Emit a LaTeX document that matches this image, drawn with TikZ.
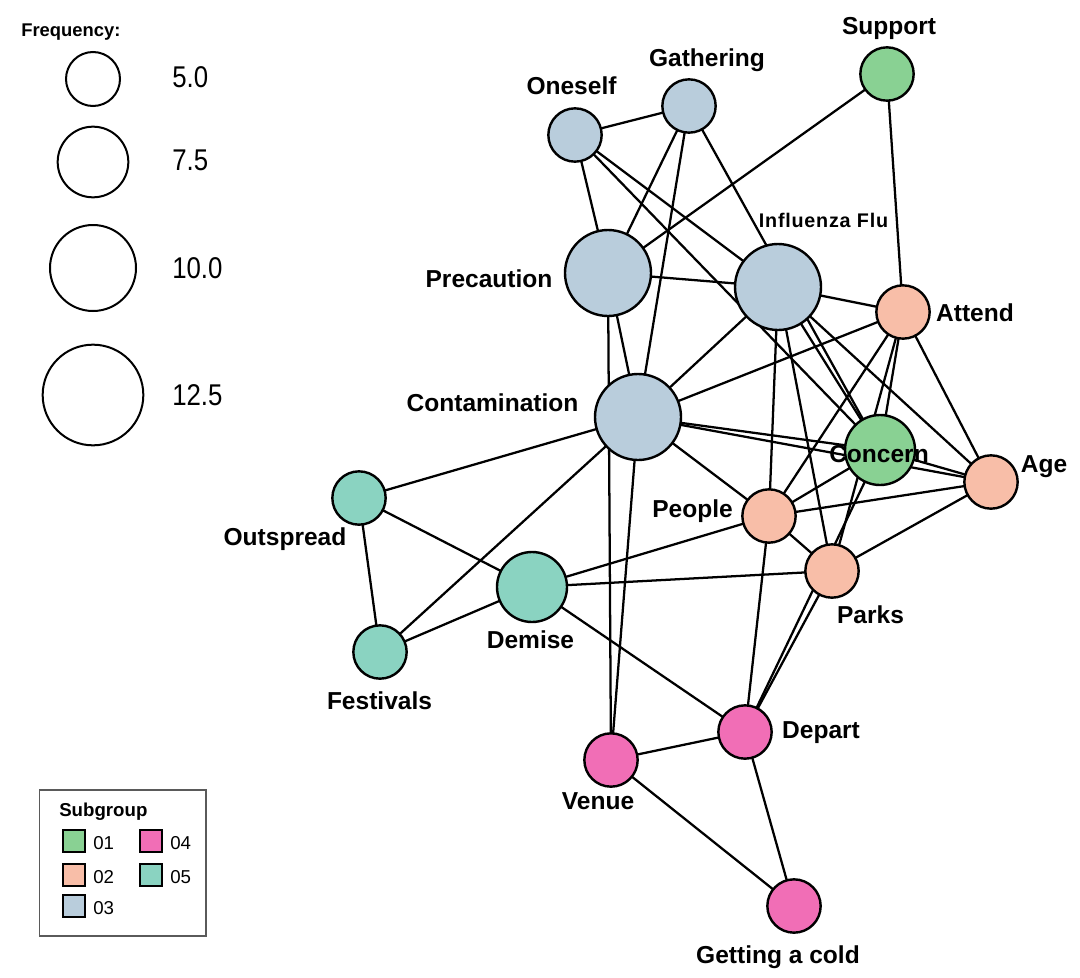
\documentclass[tikz,border=0pt]{standalone}
\usepackage{fontspec}
\setmainfont{Liberation Sans}
\newfontfamily\narrowfont[FakeStretch=0.86]{Liberation Sans}
\usetikzlibrary{backgrounds}
\definecolor{gA}{RGB}{137,209,147}
\definecolor{gB}{RGB}{248,190,168}
\definecolor{gC}{RGB}{185,205,220}
\definecolor{gD}{RGB}{241,110,182}
\definecolor{gE}{RGB}{138,211,193}
\definecolor{boxgray}{RGB}{90,90,90}
\begin{document}
\begin{tikzpicture}[x=0.75pt,y=-0.75pt,
  nd/.style={circle,draw=black,line width=1.8pt,inner sep=0pt,outer sep=0pt},
  sA/.style={minimum size=40pt},
  sB/.style={minimum size=52.5pt},
  sC/.style={minimum size=64.5pt},
  lbl/.style={font=\fontsize{18.4pt}{20pt}\selectfont\bfseries,inner sep=0pt,anchor=base},
  flbl/.style={font=\fontsize{14.8pt}{16pt}\selectfont\bfseries\addfontfeature{LetterSpace=4},inner sep=0pt,anchor=base},
  edge/.style={line width=1.7pt,black},
  legc/.style={circle,draw=black,line width=1.5pt,inner sep=0pt,outer sep=0pt},
  legn/.style={font=\narrowfont\fontsize{22.5pt}{24pt}\selectfont,inner sep=0pt,anchor=base west},
  swatch/.style={draw=black,line width=1.6pt,minimum size=16pt,inner sep=0pt},
  swl/.style={font=\fontsize{14pt}{15pt}\selectfont,inner sep=0pt,anchor=base west},
]
\useasboundingbox (0,0) rectangle (1080,977);

% nodes
\node[nd,sA,fill=gA] (support) at (887,74) {};
\node[nd,sA,fill=gC] (gathering) at (689,106) {};
\node[nd,sA,fill=gC] (oneself) at (575,135) {};
\node[nd,sC,fill=gC] (precaution) at (608,273) {};
\node[nd,sC,fill=gC] (influenza) at (778,287) {};
\node[nd,sA,fill=gB] (attend) at (903,312) {};
\node[nd,sC,fill=gC] (contamination) at (638,417) {};
\node[nd,sB,fill=gA] (concern) at (880,450) {};
\node[nd,sA,fill=gB] (age) at (991,482) {};
\node[nd,sA,fill=gB] (people) at (769,516) {};
\node[nd,sA,fill=gB] (parks) at (832,571) {};
\node[nd,sA,fill=gE] (outspread) at (359,498) {};
\node[nd,sB,fill=gE] (demise) at (532,587) {};
\node[nd,sA,fill=gE] (festivals) at (380,652) {};
\node[nd,sA,fill=gD] (depart) at (745,732) {};
\node[nd,sA,fill=gD] (venue) at (611,760) {};
\node[nd,sA,fill=gD] (cold) at (794,906) {};

% edges
\begin{pgfonlayer}{background}
\draw[edge] (oneself) -- (gathering);
\draw[edge] (oneself) -- (precaution);
\draw[edge] (oneself) -- (influenza);
\draw[edge] (oneself) -- (concern);
\draw[edge] (gathering) -- (precaution);
\draw[edge] (gathering) -- (contamination);
\draw[edge] (gathering) -- (concern);
\draw[edge] (support) -- (precaution);
\draw[edge] (support) -- (attend);
\draw[edge] (precaution) -- (influenza);
\draw[edge] (precaution) -- (contamination);
\draw[edge] (precaution) -- (venue);
\draw[edge] (influenza) -- (contamination);
\draw[edge] (influenza) -- (attend);
\draw[edge] (influenza) -- (people);
\draw[edge] (influenza) -- (parks);
\draw[edge] (influenza) -- (concern);
\draw[edge] (influenza) -- (age);
\draw[edge] (attend) -- (contamination);
\draw[edge] (attend) -- (people);
\draw[edge] (attend) -- (concern);
\draw[edge] (attend) -- (parks);
\draw[edge] (attend) -- (age);
\draw[edge] (contamination) -- (concern);
\draw[edge] (contamination) -- (age);
\draw[edge] (contamination) -- (people);
\draw[edge] (contamination) -- (outspread);
\draw[edge] (contamination) -- (festivals);
\draw[edge] (contamination) -- (venue);
\draw[edge] (concern) -- (age);
\draw[edge] (concern) -- (people);
\draw[edge] (people) -- (age);
\draw[edge] (people) -- (parks);
\draw[edge] (people) -- (demise);
\draw[edge] (people) -- (depart);
\draw[edge] (parks) -- (age);
\draw[edge] (parks) -- (demise);
\draw[edge] (parks) -- (depart);
\draw[edge] (depart) -- (concern);
\draw[edge] (outspread) -- (demise);
\draw[edge] (outspread) -- (festivals);
\draw[edge] (festivals) -- (demise);
\draw[edge] (demise) -- (depart);
\draw[edge] (venue) -- (depart);
\draw[edge] (venue) -- (cold);
\draw[edge] (depart) -- (cold);
\end{pgfonlayer}

% labels
\node[lbl] (l-support) at (889,35) {Support};
\node[lbl] (l-gathering) at (707,67) {Gathering};
\node[lbl] (l-oneself) at (571.5,95) {Oneself};
\node[flbl] (l-influenza) at (823.5,227) {Influenza Flu};
\node[lbl] (l-precaution) at (489,287) {Precaution};
\node[lbl] (l-attend) at (975,321) {Attend};
\node[lbl] (l-contamination) at (492.5,411) {Contamination};
\node[lbl] (l-concern) at (879,462) {Concern};
\node[lbl] (l-age) at (1044,472) {Age};
\node[lbl] (l-people) at (692.5,517) {People};
\node[lbl] (l-parks) at (870.5,623) {Parks};
\node[lbl] (l-outspread) at (285,545) {Outspread};
\node[lbl] (l-demise) at (530.5,648) {Demise};
\node[lbl] (l-festivals) at (379.5,709) {Festivals};
\node[lbl] (l-depart) at (821,738) {Depart};
\node[lbl] (l-venue) at (598,809) {Venue};
\node[lbl] (l-cold) at (778,963) {Getting a cold};

% frequency legend
\node[font=\fontsize{13.8pt}{15pt}\selectfont\bfseries,inner sep=0pt,anchor=base west] (freq) at (21,37) {Frequency:};
\node[legc,minimum size=40.5pt] (f1) at (93,79) {};
\node[legc,minimum size=53pt] (f2) at (93,162) {};
\node[legc,minimum size=64.5pt] (f3) at (93,268) {};
\node[legc,minimum size=75.5pt] (f4) at (93,395) {};
\node[legn] (t1) at (172,88) {5.0};
\node[legn] (t2) at (172,171) {7.5};
\node[legn] (t3) at (172,278) {10.0};
\node[legn] (t4) at (172,405) {12.5};

% subgroup legend
\node[draw=boxgray,line width=1pt,minimum width=125pt,minimum height=109.5pt,inner sep=0pt] (legbox) at (122.5,863) {};
\node[font=\fontsize{14pt}{15pt}\selectfont\bfseries,inner sep=0pt,anchor=base west] (sgt) at (59,816) {Subgroup};
\node[swatch,fill=gA] (sw1) at (74,841) {};
\node[swatch,fill=gB] (sw2) at (74,875) {};
\node[swatch,fill=gC] (sw3) at (74,906) {};
\node[swatch,fill=gD] (sw4) at (151,841) {};
\node[swatch,fill=gE] (sw5) at (151,875) {};
\node[swl] (s1) at (93,849) {01};
\node[swl] (s2) at (93,883) {02};
\node[swl] (s3) at (93,914) {03};
\node[swl] (s4) at (170,849) {04};
\node[swl] (s5) at (170,883) {05};
\end{tikzpicture}
\end{document}
